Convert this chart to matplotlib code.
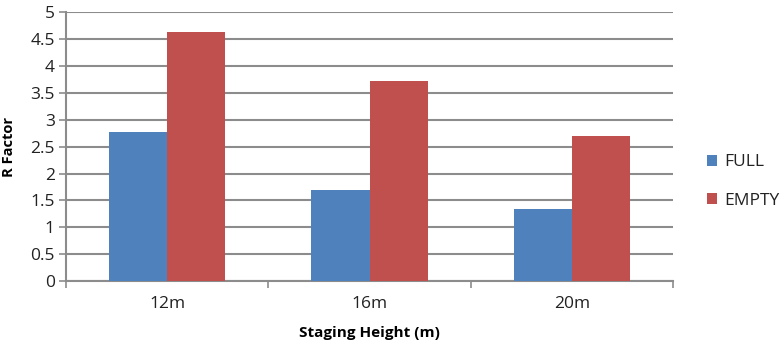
import matplotlib
matplotlib.use("Agg")
import matplotlib.pyplot as plt
import numpy as np

plt.rcParams['font.family'] = ['Open Sans', 'DejaVu Sans']

heights = ['12m', '16m', '20m']
full = [2.78, 1.69, 1.34]
empty = [4.64, 3.72, 2.69]

x = np.arange(len(heights))
w = 0.287

fig = plt.figure(figsize=(7.81, 3.58), dpi=100)
ax = fig.add_axes([66/781, 1 - 281/358, (673-66)/781, (281-12.3)/358])

ax.bar(x - w/2, full, w, color='#4F81BD', label='FULL', zorder=3)
ax.bar(x + w/2, empty, w, color='#C0504D', label='EMPTY', zorder=3)

ax.set_xlim(-0.5, 2.5)
ax.set_ylim(0, 5)
ax.set_yticks(np.arange(0, 5.01, 0.5))
ax.set_yticklabels(['0', '0.5', '1', '1.5', '2', '2.5', '3', '3.5', '4', '4.5', '5'])
ax.yaxis.grid(True, color='#8c8c8c', linewidth=1.5, zorder=0)

ax.set_xticks(x)
ax.set_xticklabels(heights)
ax.set_xticks([-0.5, 0.5, 1.5, 2.5], minor=True)
ax.tick_params(axis='x', which='major', length=0, pad=11, labelsize=12.5, labelcolor='#222222')
ax.tick_params(axis='x', which='minor', length=5, color='#8c8c8c', width=1.2)
ax.tick_params(axis='y', length=5, color='#8c8c8c', width=1.2, labelsize=12.5, pad=3,
               labelcolor='#222222')

for s in ['top', 'right']:
    ax.spines[s].set_visible(False)
for s in ['left', 'bottom']:
    ax.spines[s].set_color('#8c8c8c')
    ax.spines[s].set_linewidth(1.5)

ax.set_xlabel('Staging Height (m)', fontsize=11, fontweight='bold', labelpad=10)
ax.set_ylabel('R Factor', fontsize=10.5, fontweight='bold')
ax.yaxis.set_label_coords(-50/607, 0.5)

ax.legend(loc='center left', bbox_to_anchor=(1.03, 0.37), frameon=False,
          fontsize=12.5, handlelength=0.6, handleheight=0.6, labelspacing=1.3,
          handletextpad=0.4, labelcolor='#222222')

fig.savefig('out.png', dpi=100)
